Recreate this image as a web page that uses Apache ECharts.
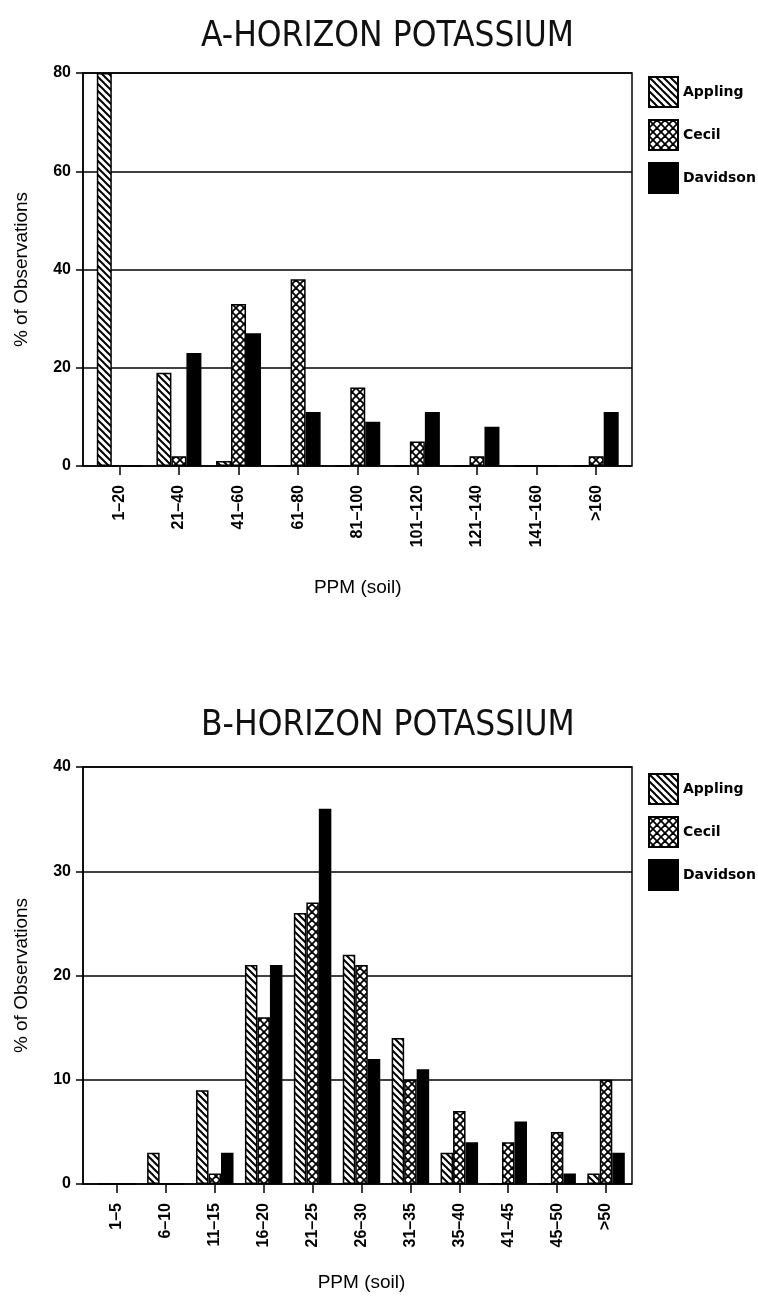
<!DOCTYPE html>
<html>
<head>
<meta charset="utf-8">
<script src="https://cdn.jsdelivr.net/npm/echarts@6/dist/echarts.min.js"></script>
<style>
  html, body { margin: 0; padding: 0; background: #fff; }
  #main { width: 758px; height: 1303px; }
</style>
</head>
<body>
<div id="main"></div>
<script>
// A-horizon
const aCats = ['1–20', '21–40', '41–60', '61–80', '81–100', '101–120', '121–140', '141–160', '>160'];
const aAppling = [80, 19, 1, 0, 0, 0, 0, 0, 0];
const aCecil = [0, 2, 33, 38, 16, 5, 2, 0, 2];
const aDavidson = [0, 23, 27, 11, 9, 11, 8, 0, 11];
const aTicks = [0, 20, 40, 60, 80];

// B-horizon
const bCats = ['1–5', '6–10', '11–15', '16–20', '21–25', '26–30', '31–35', '35–40', '41–45', '45–50', '>50'];
const bAppling = [0, 3, 9, 21, 26, 22, 14, 3, 0, 0, 1];
const bCecil = [0, 0, 1, 16, 27, 21, 10, 7, 4, 5, 10];
const bDavidson = [0, 0, 3, 21, 36, 12, 11, 4, 6, 1, 3];
const bTicks = [0, 10, 20, 30, 40];

const seriesNames = ['Appling', 'Cecil', 'Davidson'];

// hatch tiles
function hatch(size, dirs, lw) {
  const c = document.createElement('canvas');
  c.width = c.height = size;
  const g = c.getContext('2d');
  g.fillStyle = '#fff';
  g.fillRect(0, 0, size, size);
  g.strokeStyle = '#000';
  g.lineWidth = lw;
  for (let k = -1; k <= 1; k++) {
    if (dirs.indexOf('\\') >= 0) {
      g.beginPath();
      g.moveTo(-1, -1 + k * size);
      g.lineTo(size + 1, size + 1 + k * size);
      g.stroke();
    }
    if (dirs.indexOf('/') >= 0) {
      g.beginPath();
      g.moveTo(-1, size + 1 + k * size);
      g.lineTo(size + 1, -1 + k * size);
      g.stroke();
    }
  }
  return { image: c, repeat: 'repeat' };
}
const fills = [hatch(7, '\\', 2), hatch(8, '\\/', 1.8), '#000'];

const font = 'Liberation Sans, Arial, sans-serif';
const black = '#000';

function frameY(gridIndex, max, interval) {
  return {
    gridIndex: gridIndex, type: 'value', min: 0, max: max, interval: interval,
    name: '% of Observations', nameLocation: 'middle', nameGap: 52,
    nameTextStyle: { fontFamily: font, fontSize: 19, color: black },
    axisLine: { show: true, lineStyle: { color: black, width: 1.5 } },
    axisTick: { show: true, length: 7, lineStyle: { color: black, width: 1.5 } },
    axisLabel: { margin: 12, fontFamily: font, fontWeight: 'bold', fontSize: 16, color: black },
    splitLine: { show: true, lineStyle: { color: black, width: 1.5 } }
  };
}
function barX(gridIndex, cats, gap) {
  return {
    gridIndex: gridIndex, type: 'category', data: cats,
    name: 'PPM (soil)', nameLocation: 'middle', nameGap: gap,
    nameTextStyle: { fontFamily: font, fontSize: 19, color: black },
    axisLine: { show: false },
    axisTick: { show: true, alignWithLabel: true, length: 9, lineStyle: { color: black, width: 1.5 } },
    axisLabel: { rotate: 90, margin: 19, interval: 0, fontFamily: font, fontWeight: 'bold', fontSize: 16, color: black }
  };
}
function bars(idx, lists, width) {
  return lists.map((vals, i) => ({
    name: seriesNames[i], type: 'bar', xAxisIndex: idx, yAxisIndex: idx,
    data: vals, barWidth: width, barGap: '0%',
    itemStyle: { color: fills[i], borderColor: black, borderWidth: 1.5 },
    emphasis: { disabled: true }
  }));
}
function legendAt(top) {
  return {
    orient: 'vertical', left: 643, top: top, itemWidth: 29, itemHeight: 30, itemGap: 11,
    icon: 'rect', data: seriesNames,
    textStyle: { fontFamily: 'DejaVu Sans, sans-serif', fontWeight: 'bold', fontSize: 14, color: black }
  };
}

const titleStyle = { fontFamily: 'Liberation Sans Narrow, DejaVu Sans Condensed, sans-serif', fontWeight: 'normal', fontSize: 35, color: '#111' };

const chart = echarts.init(document.getElementById('main'));
chart.setOption({
  animation: false,
  backgroundColor: '#fff',
  title: [
    { text: 'A-HORIZON POTASSIUM', left: 196, top: 14, textStyle: titleStyle },
    { text: 'B-HORIZON POTASSIUM', left: 196, top: 703, textStyle: titleStyle }
  ],
  legend: [legendAt(71), legendAt(768)],
  grid: [
    { left: 83, right: 126, top: 73, bottom: 837, show: true, borderColor: black, borderWidth: 1.5 },
    { left: 89.5, right: 132, top: 73, bottom: 837 },
    { left: 83, right: 126, top: 767, bottom: 119, show: true, borderColor: black, borderWidth: 1.5 },
    { left: 92.5, right: 127.5, top: 767, bottom: 119 }
  ],
  xAxis: [
    { gridIndex: 0, type: 'value', min: 0, max: 1, show: false },
    barX(1, aCats, 112),
    { gridIndex: 2, type: 'value', min: 0, max: 1, show: false },
    barX(3, bCats, 89)
  ],
  yAxis: [
    frameY(0, aTicks[aTicks.length - 1], aTicks[1] - aTicks[0]),
    { gridIndex: 1, type: 'value', min: 0, max: aTicks[aTicks.length - 1], show: false },
    frameY(2, bTicks[bTicks.length - 1], bTicks[1] - bTicks[0]),
    { gridIndex: 3, type: 'value', min: 0, max: bTicks[bTicks.length - 1], show: false }
  ],
  series: [].concat(
    bars(1, [aAppling, aCecil, aDavidson], 15),
    bars(3, [bAppling, bCecil, bDavidson], 12.5)
  )
});
</script>
</body>
</html>
